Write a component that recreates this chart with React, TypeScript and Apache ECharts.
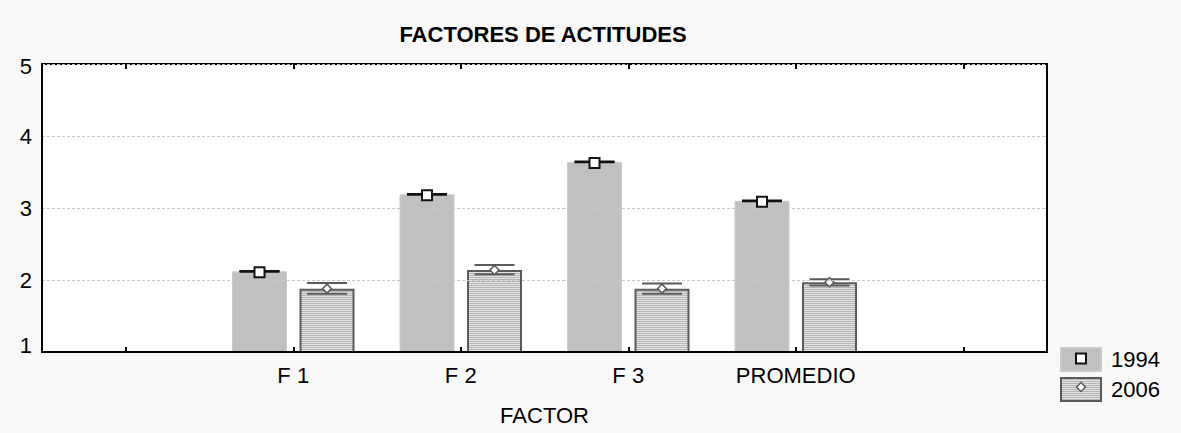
import { useEffect, useRef } from 'react';
import * as echarts from 'echarts';

// ---- data ----
const categories = ['', 'F 1', 'F 2', 'F 3', 'PROMEDIO', ''];
const factorIndex = [1, 2, 3, 4];
const years = ['1994', '2006'];
const mean1994 = [2.12, 3.19, 3.64, 3.1];
const low1994 = [2.115, 3.185, 3.635, 3.095];
const high1994 = [2.125, 3.195, 3.645, 3.105];
const mean2006 = [1.88, 2.14, 1.88, 1.97];
const low2006 = [1.81, 2.08, 1.81, 1.925];
const high2006 = [1.96, 2.21, 1.95, 2.01];
const yMin = 1;
const yMax = 5;
const yStep = 1;

const FONT = "'Liberation Sans', Arial, sans-serif";
const BAR_W = 55;
const BAR_GAP = 12.5;
const OFF = (BAR_W + BAR_GAP) / 2;

function padded(vals: number[]) {
  return categories.map((_, i) => {
    const k = factorIndex.indexOf(i);
    return k >= 0 ? vals[k] : null;
  });
}

function errData(mean: number[], lo: number[], hi: number[]) {
  return factorIndex.map((c, k) => [c, mean[k], lo[k], hi[k]]);
}

function makeRender(offset: number, kind: 'sq' | 'dia') {
  return (params: any, api: any) => {
    const c = api.coord([api.value(0), api.value(1)]);
    const lo = api.coord([api.value(0), api.value(2)]);
    const hi = api.coord([api.value(0), api.value(3)]);
    const x = c[0] + offset;
    const col = kind === 'sq' ? '#111' : '#5a5a5a';
    const children: any[] = [
      { type: 'line', shape: { x1: x, y1: lo[1], x2: x, y2: hi[1] }, style: { stroke: col, lineWidth: 2 } },
      { type: 'line', shape: { x1: x - 20, y1: lo[1], x2: x + 20, y2: lo[1] }, style: { stroke: col, lineWidth: 2 } },
      { type: 'line', shape: { x1: x - 20, y1: hi[1], x2: x + 20, y2: hi[1] }, style: { stroke: col, lineWidth: 2 } },
    ];
    if (kind === 'sq') {
      children.push({
        type: 'rect',
        shape: { x: x - 5, y: c[1] - 4, width: 10, height: 10 },
        style: { fill: '#fff', stroke: '#111', lineWidth: 2 },
      });
    } else {
      children.push({
        type: 'polygon',
        shape: { points: [[x, c[1] - 4.5], [x + 4.5, c[1]], [x, c[1] + 4.5], [x - 4.5, c[1]]] },
        style: { fill: '#fff', stroke: '#5a5a5a', lineWidth: 1.5 },
      });
    }
    return { type: 'group', children };
  };
}

export default function App() {
  const ref = useRef<HTMLDivElement>(null);

  useEffect(() => {
    if (!ref.current) return;
    const chart = echarts.init(ref.current, null, { renderer: 'svg' });

    const cv = document.createElement('canvas');
    cv.width = 4;
    cv.height = 2;
    const ctx = cv.getContext('2d')!;
    ctx.fillStyle = '#e4e4e4';
    ctx.fillRect(0, 0, 4, 1);
    ctx.fillStyle = '#b4b4b4';
    ctx.fillRect(0, 1, 4, 1);
    const stripe: any = { image: cv, repeat: 'repeat', imageWidth: 4, imageHeight: 2 };

    const axisText = { color: '#000', fontSize: 22, fontFamily: FONT };

    chart.setOption({
      animation: false,
      backgroundColor: '#f9f9f9',
      title: {
        text: 'FACTORES DE ACTITUDES',
        left: 543,
        top: 23,
        padding: 0,
        textAlign: 'center',
        textStyle: { color: '#000', fontSize: 22, fontWeight: 'bold', fontFamily: FONT },
      },
      legend: {
        orient: 'vertical',
        left: 1060,
        top: 347,
        padding: 0,
        itemWidth: 40,
        itemHeight: 23,
        itemGap: 5,
        icon: 'rect',
        data: years,
        textStyle: { ...axisText, padding: [0, 0, 0, 5] },
      },
      grid: {
        left: 42,
        right: 134,
        top: 64,
        bottom: 81,
        show: true,
        backgroundColor: '#ffffff',
        borderColor: '#000',
        borderWidth: 2,
        containLabel: false,
      },
      xAxis: [
        {
          type: 'category',
          data: categories,
          position: 'bottom',
          z: 5,
          name: 'FACTOR',
          nameLocation: 'middle',
          nameGap: 52,
          nameTextStyle: axisText,
          axisLine: { show: true, lineStyle: { color: '#000', width: 2 } },
          axisTick: { show: true, inside: true, length: 5, alignWithLabel: true, interval: 0, lineStyle: { color: '#000', width: 2 } },
          axisLabel: { ...axisText, interval: 0, margin: 12 },
          splitLine: { show: false },
        },
        {
          type: 'category',
          data: categories,
          position: 'top',
          z: 5,
          axisLine: { show: false },
          axisTick: { show: true, inside: true, length: 5, alignWithLabel: true, interval: 0, lineStyle: { color: '#000', width: 2 } },
          axisLabel: { show: false },
          splitLine: { show: false },
        },
      ],
      yAxis: {
        type: 'value',
        min: yMin,
        max: yMax,
        interval: yStep,
        z: 5,
        axisLine: { show: true, lineStyle: { color: '#000', width: 2 } },
        axisTick: { show: false },
        axisLabel: {
          ...axisText,
          margin: 10,
          formatter: (v: number) =>
            v === yMin ? '{lo|' + v + '}' : v === yMax ? '{hi|' + v + '}' : String(v),
          rich: {
            lo: { ...axisText, padding: [0, 0, 14, 0] },
            hi: { ...axisText, padding: [5, 0, 0, 0] },
          },
        },
        splitLine: { show: true, lineStyle: { color: '#c8c8c8', type: [3, 2], width: 1 } },
      },
      series: [
        {
          name: '1994',
          type: 'bar',
          data: padded(mean1994),
          barWidth: BAR_W,
          barGap: (BAR_GAP / BAR_W) * 100 + '%',
          itemStyle: { color: '#c0c0c0', borderColor: '#cbcbcb', borderWidth: 1 },
        },
        {
          name: '2006',
          type: 'bar',
          data: padded(mean2006),
          barWidth: BAR_W,
          itemStyle: { color: stripe, borderColor: '#5a5a5a', borderWidth: 2 },
        },
        {
          name: '1994',
          type: 'custom',
          z: 4,
          encode: { x: 0, y: [1, 2, 3] },
          data: errData(mean1994, low1994, high1994),
          renderItem: makeRender(-OFF, 'sq'),
        },
        {
          name: '2006',
          type: 'custom',
          z: 4,
          encode: { x: 0, y: [1, 2, 3] },
          data: errData(mean2006, low2006, high2006),
          renderItem: makeRender(OFF, 'dia'),
        },
      ],
      graphic: [
        {
          type: 'rect',
          z: 100,
          shape: { x: 1076, y: 353.5, width: 10, height: 10 },
          style: { fill: '#fff', stroke: '#111', lineWidth: 2 },
        },
        {
          type: 'polygon',
          z: 100,
          shape: { points: [[1081, 382.5], [1085.5, 387], [1081, 391.5], [1076.5, 387]] },
          style: { fill: '#fff', stroke: '#5a5a5a', lineWidth: 1.5 },
        },
      ],
    });

    return () => chart.dispose();
  }, []);

  return (
    <div
      ref={ref}
      style={{ position: 'fixed', left: 0, top: 0, width: 1181, height: 433 }}
    />
  );
}
